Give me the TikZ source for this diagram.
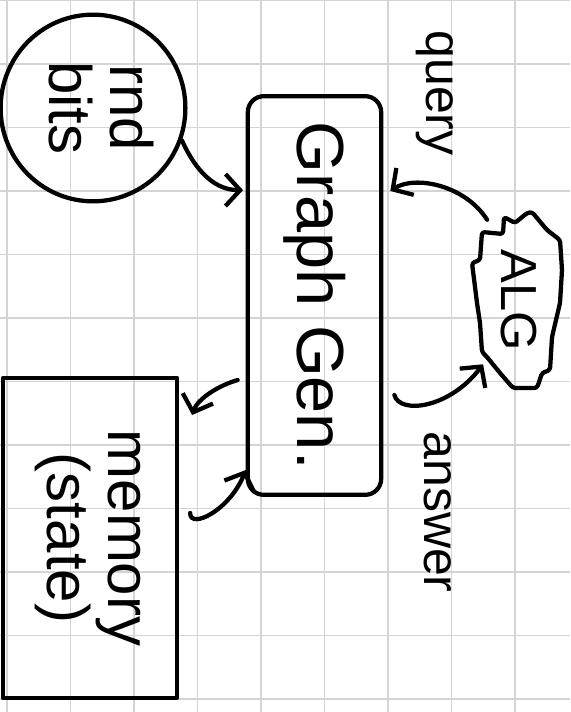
\documentclass[tikz,border=0pt]{standalone}
\usepackage{fontspec}
\setmainfont{Liberation Sans}
\usetikzlibrary{arrows.meta,shapes.geometric}

\definecolor{gridgray}{RGB}{212,212,212}

\tikzset{
  ink/.style={line width=3.2pt, line cap=round, line join=round},
  handarrow/.style={ink, -{Straight Barb[length=11pt,width=24pt]}},
}

\begin{document}
\begin{tikzpicture}[x=0.75pt,y=0.75pt,yscale=-1,xscale=1]
\useasboundingbox (0,0) rectangle (570,712);

%Grid paper
\foreach \gx in {7,70.5,...,520} \draw [gridgray, line width=1.3pt] (\gx,0) -- (\gx,712);
\foreach \gy in {0.5,64,...,712} \draw [gridgray, line width=1.3pt] (0,\gy) -- (570,\gy);

%Shape: Ellipse
\node [ink, draw, ellipse, minimum width=135pt, minimum height=140pt, font=\fontsize{45}{43.5}\selectfont] (bits) at (93,108) {\rotatebox{-90}{\begin{tabular}{@{}c@{}}rnd\\bits\end{tabular}}};

%Shape: Rounded Rect
\node [ink, draw, rounded corners=12pt, minimum width=100pt, minimum height=299pt, font=\fontsize{50}{50}\selectfont] (gen) at (314.5,295.5) {\rotatebox{-90}{Graph Gen.}};

%Shape: Rectangle
\node [ink, draw, minimum width=130.5pt, minimum height=240pt, font=\fontsize{45}{45}\selectfont] (mem) at (90,538) {\rotatebox{-90}{\begin{tabular}{@{}c@{}}memory\\(state)\end{tabular}}};

% Text Node
\node [minimum width=67.5pt, minimum height=132pt, font=\fontsize{38}{38}\selectfont] (alg) at (519,300) {\rotatebox{-90}{ALG}};
%Shape: Polygon (jagged outline round ALG)
\draw [ink, rounded corners=2pt] (482,232) -- (503,234) -- (504,217) -- (515,223) -- (527,213) -- (532,212) -- (547,230) -- (560,240) -- (562,270) -- (560,303) -- (552,337) -- (550,370) -- (542,373) -- (537,388) -- (513,388) -- (500,373) -- (487,357) -- (482,352) -- (480,323) -- (477,303) -- (472,263) -- (480,260) -- cycle;

% Text Node
\node [font=\fontsize{37.5}{37.5}\selectfont] (query) at (435,93) {\rotatebox{-90}{query}};
% Text Node
\node [font=\fontsize{37.5}{37.5}\selectfont] (answer) at (438,512) {\rotatebox{-90}{answer}};

%Curve Lines
\draw [handarrow] (bits.-20) .. controls (192,163) and (210,190) .. ([xshift=-2pt,yshift=-79pt]gen.west);
\draw [handarrow] ([xshift=10pt,yshift=6pt]alg.north west) .. controls (465,185) and (415,175) .. ([xshift=5.25pt,yshift=-78.4pt]gen.east);
\draw [handarrow] ([xshift=8.25pt,yshift=74.6pt]gen.east) .. controls (400,415) and (450,408) .. ([xshift=7pt,yshift=-18pt]alg.south west);
\draw [handarrow] ([xshift=-6pt,yshift=63.4pt]gen.west) .. controls (220,385) and (198,398) .. ([xshift=9.75pt,yshift=-92.25pt]mem.east);
\draw [handarrow] ([xshift=8.25pt,yshift=-18.75pt]mem.east) .. controls (190,530) and (230,510) .. ([yshift=130.9pt]gen.west);

\end{tikzpicture}
\end{document}
